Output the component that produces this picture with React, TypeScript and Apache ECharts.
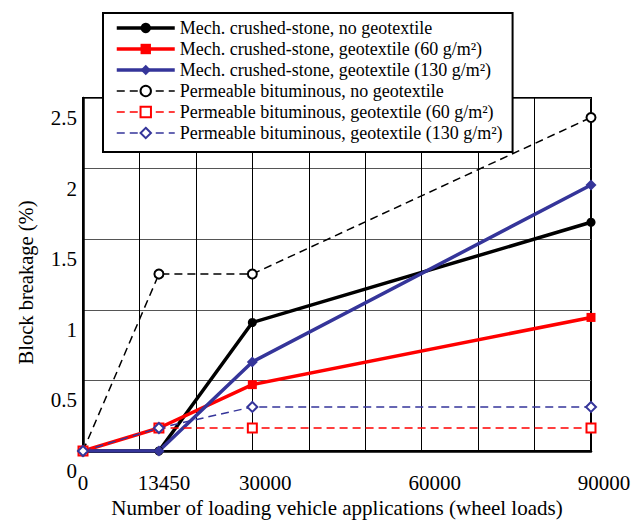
import React, { useEffect, useRef } from "react";
import * as echarts from "echarts";

const xValues = [0, 13450, 30000, 90000];
const xLabelValues = [0, 13450, 30000, 60000, 90000];
const yTicks = [0, 0.5, 1, 1.5, 2, 2.5];

const seriesNames = [
  "Mech. crushed-stone, no geotextile",
  "Mech. crushed-stone, geotextile (60 g/m²)",
  "Mech. crushed-stone, geotextile (130 g/m²)",
  "Permeable bituminous, no geotextile",
  "Permeable bituminous, geotextile (60 g/m²)",
  "Permeable bituminous, geotextile (130 g/m²)",
];

const mechNone = [0, 0, 0.91, 1.62];
const mech60 = [0, 0.163, 0.47, 0.946];
const mech130 = [0, 0, 0.631, 1.884];
const permNone = [0, 1.253, 1.253, 2.362];
const perm60 = [0, 0.163, 0.163, 0.163];
const perm130 = [0, 0.163, 0.312, 0.312];

const FONT = "Liberation Serif";
const BLUE = "#35359a";
const RED = "#ff0000";

function pairs(vals: number[]) {
  return xValues.map((x, i) => [x, vals[i]]);
}

export default function App() {
  const ref = useRef<HTMLDivElement>(null);
  useEffect(() => {
    if (!ref.current) return;
    const chart = echarts.init(ref.current, null, { renderer: "svg" });
    const solid = (name: string, vals: number[], color: string, symbol: string, size: number) => ({
      name,
      type: "line",
      data: pairs(vals),
      symbol,
      symbolSize: size,
      itemStyle: { color },
      lineStyle: { color, width: 3.5 },
    });
    const dashed = (name: string, vals: number[], color: string, symbol: string, size: number) => ({
      name,
      type: "line",
      data: pairs(vals),
      symbol,
      symbolSize: size,
      itemStyle: { color, borderWidth: 1.5 },
      lineStyle: { color, width: 1.5, type: [8, 5] },
    });
    chart.setOption({
      animation: false,
      backgroundColor: "#fff",
      grid: {
        left: 83,
        right: 50,
        top: 98,
        bottom: 70,
        containLabel: false,
        outerBoundsMode: "none",
        show: true,
        borderColor: "#000",
        borderWidth: 2,
      },
      legend: {
        orient: "vertical",
        left: 103,
        top: 13,
        data: seriesNames,
        backgroundColor: "#fff",
        borderColor: "#000",
        borderWidth: 2,
        padding: [6, 10, 10, 12],
        itemWidth: 58,
        itemHeight: 13,
        itemGap: 3,
        lineStyle: { width: "inherit" },
        textStyle: { fontFamily: FONT, fontSize: 18, color: "#000", lineHeight: 16 },
        z: 10,
      },
      xAxis: {
        type: "value",
        min: 0,
        max: 90000,
        interval: 10000,
        name: "Number of loading vehicle applications (wheel loads)",
        nameLocation: "middle",
        nameGap: 45,
        nameTextStyle: { fontFamily: FONT, fontSize: 21, color: "#000" },
        axisLine: { lineStyle: { color: "#000", width: 2.5 } },
        axisTick: { show: false },
        splitLine: { show: true, lineStyle: { color: "#000", width: 1 } },
        axisLabel: {
          customValues: xLabelValues,
          margin: 21,
          fontFamily: FONT,
          fontSize: 21,
          color: "#000",
          formatter: (v: number) =>
            v === 0 ? "{a|0}" : v === 13450 ? "{b|13450}" : "{c|" + v + "}",
          rich: {
            a: { fontFamily: FONT, fontSize: 21, color: "#000" },
            b: { fontFamily: FONT, fontSize: 21, color: "#000", padding: [0, 0, 0, 10] },
            c: { fontFamily: FONT, fontSize: 21, color: "#000", padding: [0, 0, 0, 26] },
          },
        },
      },
      yAxis: {
        type: "value",
        min: yTicks[0],
        max: yTicks[yTicks.length - 1],
        interval: 0.5,
        name: "Block breakage (%)",
        nameLocation: "middle",
        nameGap: 47,
        nameTextStyle: { fontFamily: FONT, fontSize: 20.5, color: "#000", padding: [0, 16, 0, 0] },
        axisLine: { show: true, lineStyle: { color: "#000", width: 2.5 } },
        axisTick: { show: false },
        splitLine: { show: true, lineStyle: { color: "#555", width: 1 } },
        axisLabel: {
          margin: 6,
          fontFamily: FONT,
          fontSize: 21,
          color: "#000",
          verticalAlign: "top",
          lineHeight: 40,
          formatter: (v: number) => String(v),
        },
      },
      series: [
        solid(seriesNames[0], mechNone, "#000", "circle", 9),
        solid(seriesNames[1], mech60, RED, "rect", 9),
        solid(seriesNames[2], mech130, BLUE, "diamond", 11),
        dashed(seriesNames[3], permNone, "#000", "emptyCircle", 9),
        dashed(seriesNames[4], perm60, RED, "emptyRect", 9),
        dashed(seriesNames[5], perm130, BLUE, "emptyDiamond", 10),
      ],
    });
    return () => chart.dispose();
  }, []);
  return (
    <div
      ref={ref}
      style={{ width: 641, height: 521, position: "fixed", left: 0, top: 0 }}
    />
  );
}
